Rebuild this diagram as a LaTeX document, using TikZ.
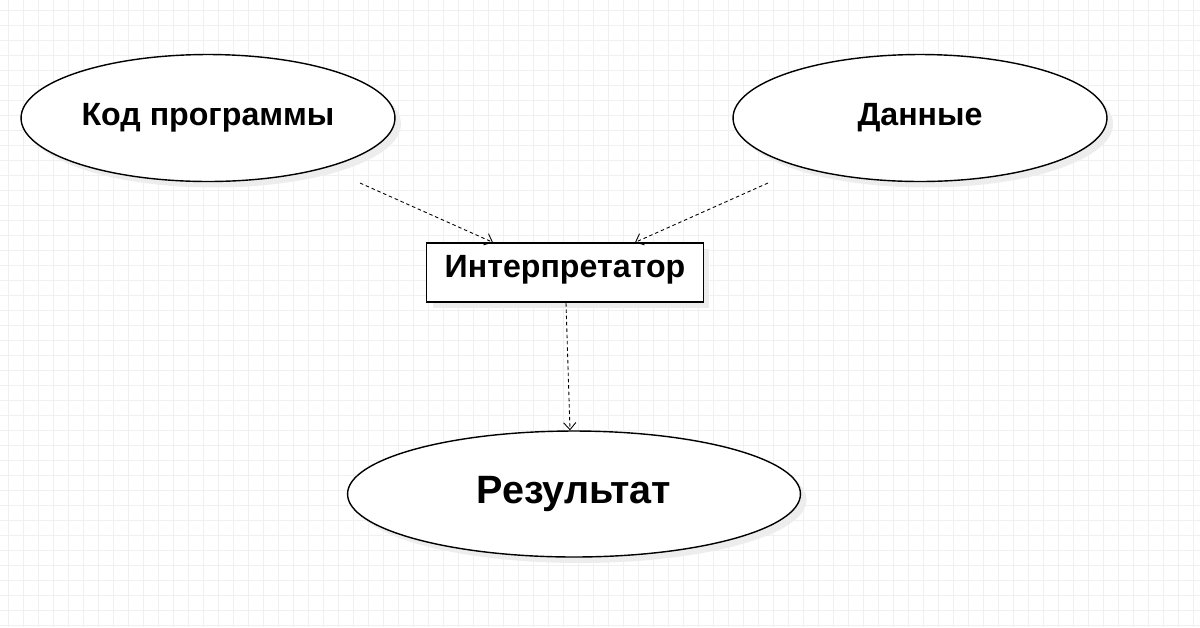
\documentclass[tikz,border=0pt]{standalone}
\usepackage{fontspec}
\setmainfont{Liberation Sans}
\usetikzlibrary{shapes}
\usetikzlibrary{arrows.meta}
\usetikzlibrary{shadows}

\begin{document}
\begin{tikzpicture}[x=0.02cm,y=-0.02cm]
				\tikzstyle{gridline}=[draw=black!6,line width=0.5pt]
				\tikzstyle{shade}=[drop shadow={shadow xshift=0.12cm,shadow yshift=-0.12cm,fill=black!7,opacity=1}]
				\tikzstyle{usecase}=[ellipse,draw,line width=0.8pt,fill=white,shade,inner sep=0pt,font=\bfseries\fontsize{18.3}{20}\selectfont]
				\tikzstyle{block}=[rectangle,draw,line width=0.7pt,fill=white,shade,inner sep=0pt,minimum width=5.54cm,minimum height=1.18cm,text height=0.48cm,text depth=0.3cm,font=\bfseries\fontsize{18.3}{20}\selectfont]
				\tikzstyle{flow}=[-{Straight Barb[length=4pt,width=7pt]},line width=0.5pt,dash pattern=on 2pt off 1.6pt]
				
				\useasboundingbox (0,0) rectangle (1200,627);
				\fill[white] (0,0) rectangle (1200,627);
				\foreach \x in {8,23,...,1200} \draw[gridline] (\x,0) -- (\x,627);
				\foreach \y in {10,25,...,627} \draw[gridline] (0,\y) -- (1200,\y);
				
				\node[usecase,minimum width=7.48cm,minimum height=2.54cm] (code) at (208,118) {Код программы};
				\node[usecase,minimum width=7.48cm,minimum height=2.54cm] (data) at (920,118) {Данные};
				\node[block] (interp) at (565,272.5) {Интерпретатор};
				\node[usecase,minimum width=9.06cm,minimum height=2.52cm,font=\bfseries\fontsize{22.5}{25}\selectfont] (result) at (574,494) {Результат};
				
				\coordinate (codeout) at (360,183);
				\coordinate (dataout) at (768,183);
				\coordinate (interpout) at (566,303);
				
				\draw[flow] (codeout) -- (493,0 |- interp.north);
				\draw[flow] (dataout) -- (635,0 |- interp.north);
				\draw[flow] (interpout) -- (570,0 |- result.north);
				
\end{tikzpicture}
\end{document}
